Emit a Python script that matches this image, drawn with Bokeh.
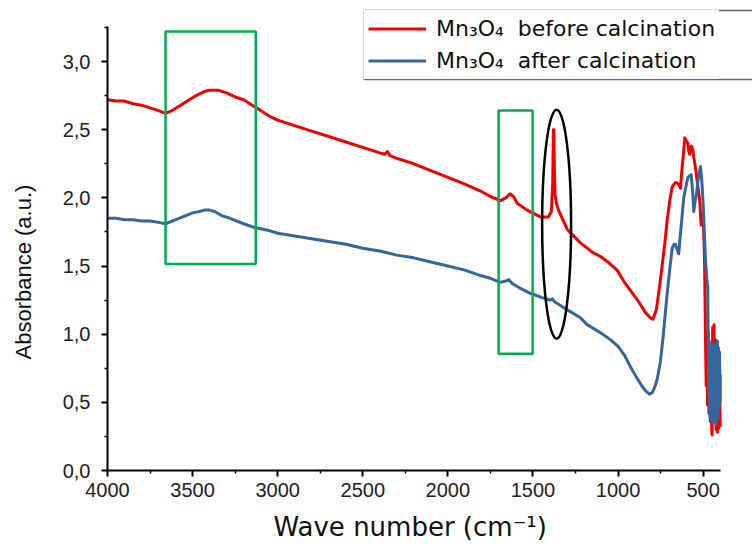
from bokeh.plotting import figure
from bokeh.models import (Range1d, FixedTicker, CustomJSTickFormatter, Legend,
                          LegendItem, BoxAnnotation, Title, LinearAxis)
from bokeh.embed import file_html
from bokeh.resources import INLINE

# ---- data: Mn3O4 before calcination (red) ----
wn_before = [4000, 3950, 3900, 3850, 3800, 3750, 3700, 3660, 3620, 3570, 3520, 3480,
             3430, 3400, 3350, 3300, 3250, 3200, 3150, 3100, 3050, 3000, 2900, 2800,
             2700, 2600, 2500, 2400, 2370, 2355, 2340, 2300, 2200, 2100, 2000, 1900,
             1808, 1750, 1691, 1660, 1635, 1615, 1593, 1534, 1456, 1410, 1392, 1384,
             1380, 1377, 1374, 1370, 1362, 1350, 1299, 1221, 1150, 1103, 1060, 1006,
             967, 927, 880, 840, 810, 795, 775, 755, 741, 725, 712, 695, 682, 665,
             653, 640, 633, 624, 615, 608, 600, 590, 584, 579, 569, 560, 555, 545,
             535, 520, 512, 505, 500, 492, 486, 482, 478, 474, 470, 466, 462, 458,
             454, 450, 447, 444, 440, 436, 432, 428, 424, 420, 416, 412, 408, 404, 400]
abs_before = [2.72, 2.71, 2.71, 2.69, 2.68, 2.66, 2.64, 2.62, 2.64, 2.68, 2.72, 2.75,
              2.78, 2.79, 2.79, 2.77, 2.74, 2.72, 2.68, 2.64, 2.60, 2.57, 2.53, 2.49,
              2.45, 2.41, 2.37, 2.33, 2.32, 2.34, 2.31, 2.29, 2.25, 2.20, 2.15, 2.10,
              2.05, 2.01, 1.98, 2.00, 2.03, 2.01, 1.96, 1.91, 1.86, 1.86, 1.90, 2.10,
              2.50, 2.50, 2.20, 2.02, 1.96, 1.91, 1.77, 1.67, 1.60, 1.57, 1.53, 1.47,
              1.39, 1.32, 1.24, 1.16, 1.12, 1.11, 1.18, 1.36, 1.50, 1.67, 1.83, 1.99,
              2.08, 2.11, 2.11, 2.09, 2.07, 2.22, 2.33, 2.44, 2.42, 2.40, 2.34, 2.32,
              2.38, 2.35, 2.30, 2.22, 2.12, 1.98, 1.80, 1.85, 1.88, 1.55, 0.95, 0.62,
              0.98, 0.48, 1.02, 0.42, 0.92, 0.36, 0.80, 0.30, 0.26, 1.05, 0.52, 1.07,
              0.36, 0.96, 0.30, 0.92, 0.28, 0.86, 0.31, 0.82, 0.32]

# ---- data: Mn3O4 after calcination (blue) ----
wn_after = [4000, 3950, 3900, 3850, 3800, 3750, 3700, 3660, 3620, 3580, 3540, 3500,
            3460, 3430, 3400, 3370, 3330, 3280, 3200, 3130, 3050, 3000, 2900, 2800,
            2700, 2600, 2500, 2400, 2300, 2200, 2100, 2000, 1900, 1808, 1750, 1691,
            1660, 1642, 1620, 1580, 1515, 1450, 1400, 1385, 1375, 1350, 1300, 1221,
            1182, 1103, 1045, 1000, 960, 927, 890, 860, 835, 815, 800, 785, 770, 751,
            735, 725, 712, 695, 682, 670, 663, 652, 644, 636, 625, 614, 600, 590, 580,
            570, 562, 555, 548, 540, 528, 516, 510, 505, 498, 492, 485, 478, 473, 470,
            467, 464, 461, 458, 455, 452, 449, 446, 443, 440, 437, 434, 431, 428, 425,
            422, 419, 416, 413, 410, 407, 404, 401, 399]
abs_after = [1.85, 1.85, 1.84, 1.84, 1.83, 1.83, 1.82, 1.81, 1.83, 1.85, 1.87, 1.89,
             1.90, 1.91, 1.91, 1.90, 1.87, 1.85, 1.81, 1.78, 1.76, 1.74, 1.72, 1.70,
             1.68, 1.66, 1.63, 1.61, 1.58, 1.56, 1.53, 1.50, 1.47, 1.43, 1.41, 1.38,
             1.39, 1.40, 1.37, 1.34, 1.30, 1.27, 1.25, 1.26, 1.24, 1.22, 1.18, 1.12,
             1.07, 1.01, 0.96, 0.91, 0.84, 0.76, 0.68, 0.62, 0.58, 0.56, 0.57, 0.61,
             0.67, 0.80, 0.98, 1.12, 1.29, 1.49, 1.63, 1.66, 1.66, 1.62, 1.59, 1.70,
             1.85, 2.00, 2.09, 2.15, 2.16, 2.17, 2.05, 1.90, 1.97, 2.02, 2.15, 2.23,
             2.16, 2.07, 1.90, 1.71, 1.52, 1.40, 1.34, 0.90, 0.55, 0.95, 0.40, 0.86,
             0.37, 0.92, 0.46, 0.82, 0.35, 0.76, 0.50, 0.93, 0.40, 0.88, 0.34, 0.85,
             0.42, 0.95, 0.38, 0.90, 0.45, 0.87, 0.50, 0.70]

# ---- axes ----
x_start, x_end = 4000, 398          # drawn part of the wave-number axis
y_start, y_end = 0.0, 3.255         # drawn part of the absorbance axis
x_view_end = 210                    # frame extends right so the legend fits
y_view_end = 3.389                  # frame extends up so the legend fits
x_ticks = [4000, 3500, 3000, 2500, 2000, 1500, 1000, 500]
x_minor = [3750, 3250, 2750, 2250, 1750, 1250, 750]
y_ticks = [0.0, 0.5, 1.0, 1.5, 2.0, 2.5, 3.0]
y_minor = [0.25, 0.75, 1.25, 1.75, 2.25, 2.75, 3.25]

# ---- highlighted regions ----
box_left = [3659, 1702]
box_right = [3129, 1502]
box_bottom = [1.514, 0.856]
box_top = [3.22, 2.64]
ell_x = [1361]
ell_y = [1.807]
ell_w = [170]
ell_h = [1.68]

labels = ["Mn\u2083O\u2084\u00a0 before calcination", "Mn\u2083O\u2084\u00a0 after calcination"]

p = figure(width=752, height=547, output_backend="svg", toolbar_location=None,
           x_range=Range1d(x_start, x_view_end), y_range=Range1d(y_start, y_view_end),
           min_border_left=107, min_border_right=0, min_border_top=8,
           min_border_bottom=77)
p.outline_line_color = None
p.grid.visible = False
p.background_fill_color = "white"

r_before = p.line(wn_before, abs_before, line_color="#f20000", line_width=3,
                  line_join="round")
r_after = p.line(wn_after, abs_after, line_color="#33679e", line_width=3,
                 line_join="round")

p.quad(left=box_left, right=box_right, bottom=box_bottom, top=box_top,
       fill_alpha=0, line_color="#00b050", line_width=2.5)
p.ellipse(x=ell_x, y=ell_y, width=ell_w, height=ell_h, fill_alpha=0,
          line_color="black", line_width=2.5)

for ax in (p.xaxis[0], p.yaxis[0]):
    ax.axis_line_width = 2
    ax.axis_line_color = "black"
    ax.major_tick_line_width = 2
    ax.minor_tick_line_width = 1.5
    ax.major_tick_out = 6
    ax.major_tick_in = 0
    ax.minor_tick_out = 3
    ax.minor_tick_in = 0
    ax.major_label_text_font = "Liberation Sans"
    ax.major_label_text_font_size = "20px"
    ax.major_label_text_color = "#222222"

p.xaxis[0].bounds = (x_end, x_start)
p.yaxis[0].bounds = (y_start, y_end)
p.xaxis[0].ticker = FixedTicker(ticks=x_ticks, minor_ticks=x_minor)
p.yaxis[0].ticker = FixedTicker(ticks=y_ticks, minor_ticks=y_minor)
p.yaxis[0].formatter = CustomJSTickFormatter(code="return tick.toFixed(1).replace('.', ',');")
p.xaxis[0].major_label_standoff = 6
p.yaxis[0].major_label_standoff = 11


def spacer(tick, size):
    # an invisible axis that only reserves `size` pixels between axis and title
    return LinearAxis(ticker=FixedTicker(ticks=[tick], minor_ticks=[]),
                      formatter=CustomJSTickFormatter(code="return '';"),
                      axis_line_alpha=0, major_tick_line_alpha=0,
                      minor_tick_line_alpha=0, major_tick_out=size,
                      major_tick_in=0, minor_tick_out=0, minor_tick_in=0,
                      major_label_standoff=0, major_label_text_font_size="1px",
                      major_label_text_alpha=0)


p.add_layout(spacer(x_ticks[1], 10), "below")
x_title = Title(text="Wave number (cm\u207b\u00b9)", align="left", offset=166,
                standoff=0, text_font="DejaVu Sans", text_font_size="26px",
                text_font_style="normal", text_color="#111111")
p.add_layout(x_title, "below")

p.add_layout(spacer(y_ticks[1], 19), "left")
y_title = Title(text="Absorbance (a.u.)", align="left", offset=111,
                text_font="Liberation Sans", text_font_size="22px",
                text_font_style="normal", text_color="#111111")
p.add_layout(y_title, "left")

legend = Legend(items=[LegendItem(label=labels[0], renderers=[r_before]),
                       LegendItem(label=labels[1], renderers=[r_after])],
                location=(257, 391), margin=0, padding=4, spacing=3,
                glyph_width=58, glyph_height=29, label_height=29, label_standoff=10,
                label_text_font="DejaVu Sans", label_text_font_size="22px",
                label_text_color="#111111",
                border_line_alpha=0, background_fill_color="white",
                background_fill_alpha=1)
p.add_layout(legend)

frame_box = BoxAnnotation(left=257, right=760, bottom=391, top=460,
                          left_units="screen", right_units="screen",
                          bottom_units="screen", top_units="screen",
                          fill_alpha=0, line_color="#666666", line_width=1.5,
                          line_alpha=1)
p.add_layout(frame_box)

open("out.html", "w").write(file_html(p, INLINE))
